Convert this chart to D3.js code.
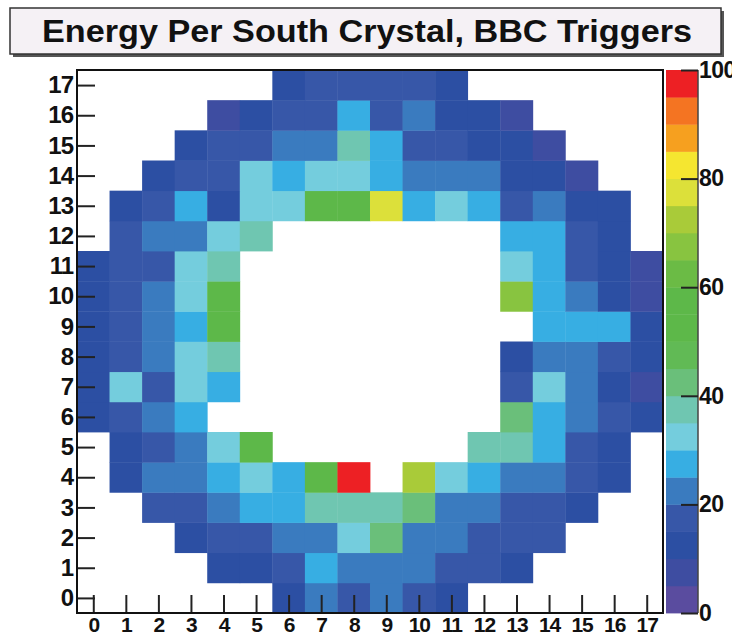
<!DOCTYPE html>
<html lang="en">
<head>
    <meta charset="utf-8">
    <title>Energy Per South Crystal</title>
    <script src="https://cdn.jsdelivr.net/npm/d3@7/dist/d3.min.js"></script>
</head>
<style>
body { margin: 0; background: #fff; }
text { font-family: "Liberation Sans", Arial, sans-serif; font-weight: bold; fill: #111; }
</style>
<body>
<script type="text/javascript">
    var width = 732, height = 639;

    // crystal index along each axis (0..17)
    var xTicks = d3.range(0, 18);
    var yTicks = d3.range(0, 18);
    var zTicks = [0, 20, 40, 60, 80, 100];

    // 20 contour levels, 5 units each (ROOT style palette)
    var palette = [
        "#5a4c9f", "#3e4da1", "#2c4fa3", "#3757a8", "#3a7bbf",
        "#37aee3", "#74cddd", "#6fc6b1", "#6abf7a", "#61ba55",
        "#5db849", "#5db849", "#6bbb45", "#88c440", "#a9cb39",
        "#dce03a", "#f5e630", "#f6a01f", "#f47422", "#ed2024"
    ];

    // energy per crystal, one row per y index (row 0 first), 0 = empty bin
    var row0  = [0, 0, 0, 0, 0, 0, 12, 22, 17, 22, 17, 12, 0, 0, 0, 0, 0, 0];
    var row1  = [0, 0, 0, 0, 12, 12, 17, 28, 22, 22, 22, 17, 17, 12, 0, 0, 0, 0];
    var row2  = [0, 0, 0, 12, 17, 17, 22, 22, 33, 43, 22, 22, 17, 17, 17, 0, 0, 0];
    var row3  = [0, 0, 17, 17, 22, 28, 28, 38, 38, 38, 43, 22, 22, 17, 17, 12, 0, 0];
    var row4  = [0, 12, 22, 22, 28, 33, 28, 58, 97, 0, 72, 33, 28, 22, 22, 17, 12, 0];
    var row5  = [0, 12, 17, 22, 33, 58, 0, 0, 0, 0, 0, 0, 38, 38, 28, 17, 12, 0];
    var row6  = [12, 17, 22, 28, 0, 0, 0, 0, 0, 0, 0, 0, 0, 43, 28, 22, 17, 12];
    var row7  = [12, 33, 17, 33, 28, 0, 0, 0, 0, 0, 0, 0, 0, 17, 33, 22, 12, 8];
    var row8  = [12, 17, 22, 33, 38, 0, 0, 0, 0, 0, 0, 0, 0, 12, 22, 22, 17, 12];
    var row9  = [12, 17, 22, 28, 58, 0, 0, 0, 0, 0, 0, 0, 0, 0, 28, 28, 28, 12];
    var row10 = [12, 17, 22, 33, 58, 0, 0, 0, 0, 0, 0, 0, 0, 67, 28, 22, 12, 8];
    var row11 = [12, 17, 17, 33, 38, 0, 0, 0, 0, 0, 0, 0, 0, 33, 28, 17, 12, 8];
    var row12 = [0, 17, 22, 22, 33, 38, 0, 0, 0, 0, 0, 0, 0, 28, 28, 17, 12, 0];
    var row13 = [0, 12, 17, 28, 12, 33, 33, 58, 58, 77, 28, 33, 28, 17, 22, 12, 12, 0];
    var row14 = [0, 0, 12, 17, 17, 33, 28, 33, 33, 28, 22, 22, 22, 12, 12, 8, 0, 0];
    var row15 = [0, 0, 0, 12, 17, 17, 22, 22, 38, 28, 17, 17, 12, 12, 8, 0, 0, 0];
    var row16 = [0, 0, 0, 0, 8, 12, 17, 17, 28, 17, 22, 12, 12, 8, 0, 0, 0, 0];
    var row17 = [0, 0, 0, 0, 0, 0, 12, 17, 17, 17, 17, 12, 0, 0, 0, 0, 0, 0];
    var energy = [row0, row1, row2, row3, row4, row5, row6, row7, row8,
                  row9, row10, row11, row12, row13, row14, row15, row16, row17];

    var svg = d3.select("body")
            .append("svg")
            .attr("width", width)
            .attr("height", height);

    // frame of the 2d histogram
    var frameL = 77, frameR = 663, frameT = 70, frameB = 613;

    var x = d3.scaleLinear().domain([-0.5, 17.5]).range([frameL, frameR]);
    var y = d3.scaleLinear().domain([-0.5, 17.5]).range([frameB, frameT]);
    var color = d3.scaleQuantize().domain([0, 100]).range(palette);

    //title box with shadow
    svg.append("rect")
            .attr("x", 13).attr("y", 11)
            .attr("width", 711).attr("height", 46)
            .attr("fill", "#555");
    svg.append("rect")
            .attr("x", 10).attr("y", 8)
            .attr("width", 711).attr("height", 46)
            .attr("fill", "#f5f1f5")
            .attr("stroke", "#333")
            .attr("stroke-width", 1.5);
    svg.append("text")
            .attr("x", 367).attr("y", 42)
            .attr("text-anchor", "middle")
            .attr("font-size", 31)
            .attr("textLength", 650)
            .attr("lengthAdjust", "spacingAndGlyphs")
            .text("Energy Per South Crystal, BBC Triggers");

    //cells
    var cells = [];
    energy.forEach(function(row, j) {
        row.forEach(function(v, i) {
            if (v > 0) cells.push({i: i, j: j, v: v});
        });
    });

    svg.append("g").selectAll("rect")
            .data(cells)
            .enter()
            .append("rect")
            .attr("x", function(d) { return x(d.i - 0.5); })
            .attr("y", function(d) { return y(d.j + 0.5); })
            .attr("width", function(d) { return x(d.i + 0.5) - x(d.i - 0.5) + 0.4; })
            .attr("height", function(d) { return y(d.j - 0.5) - y(d.j + 0.5) + 0.4; })
            .attr("fill", function(d) { return color(Math.min(d.v, 99.9)); });

    //axes, ticks point inward
    var xAxis = d3.axisBottom(x).tickValues(xTicks).tickSize(-18).tickPadding(6).tickSizeOuter(0);
    var yAxis = d3.axisLeft(y).tickValues(yTicks).tickSize(-18).tickPadding(5).tickSizeOuter(0);

    var gx = svg.append("g")
            .attr("transform", "translate(0," + frameB + ")")
            .call(xAxis);
    gx.selectAll("text").attr("font-size", 21).attr("letter-spacing", -1)
            .attr("dy", "0.71em").attr("y", 4);

    var gy = svg.append("g")
            .attr("transform", "translate(" + frameL + ",0)")
            .call(yAxis);
    gy.selectAll("text").attr("font-size", 24).attr("letter-spacing", -1).attr("x", -4);

    [gx, gy].forEach(function(g) {
        g.select(".domain").remove();
        g.selectAll(".tick line").attr("stroke", "#222").attr("stroke-width", 2);
        g.selectAll("text").attr("fill", "#111").attr("font-family", null);
    });

    svg.append("rect")
            .attr("x", frameL).attr("y", frameT)
            .attr("width", frameR - frameL).attr("height", frameB - frameT)
            .attr("fill", "none")
            .attr("stroke", "#111")
            .attr("stroke-width", 2);

    //palette axis
    var zLeft = 666, zRight = 698;
    var z = d3.scaleLinear().domain([0, 100]).range([frameB, frameT]);

    svg.append("g").selectAll("rect")
            .data(palette)
            .enter()
            .append("rect")
            .attr("x", zLeft)
            .attr("y", function(d, k) { return z((k + 1) * 5); })
            .attr("width", zRight - zLeft)
            .attr("height", function(d, k) { return z(k * 5) - z((k + 1) * 5) + 0.4; })
            .attr("fill", function(d) { return d; });

    svg.append("line")
            .attr("x1", zRight).attr("x2", zRight)
            .attr("y1", frameT).attr("y2", frameB)
            .attr("stroke", "#444").attr("stroke-width", 1.5);

    var zAxis = d3.axisRight(z).tickValues(zTicks).tickSize(-17).tickPadding(3).tickSizeOuter(0);
    var gz = svg.append("g")
            .attr("transform", "translate(" + zRight + ",0)")
            .call(zAxis);
    gz.select(".domain").remove();
    gz.selectAll(".tick line").attr("stroke", "#222").attr("stroke-width", 2);
    gz.selectAll("text").attr("font-size", 23).attr("fill", "#111")
            .attr("font-family", null).attr("x", 1).attr("letter-spacing", -0.5);

</script>
</body>
</html>
